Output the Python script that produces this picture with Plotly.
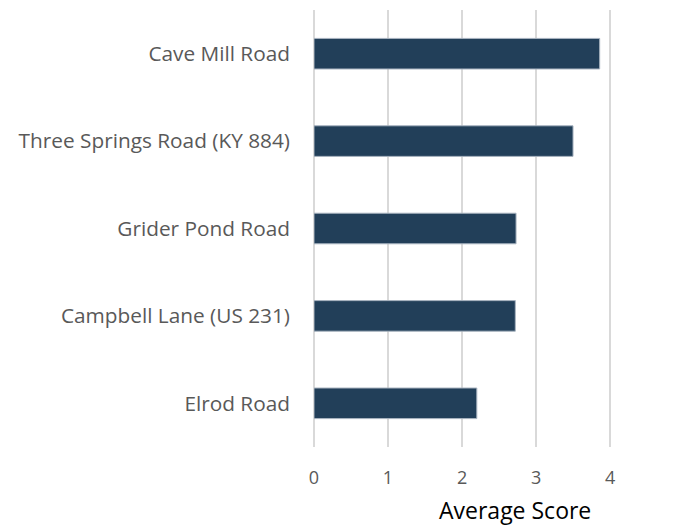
import plotly.graph_objects as go

categories = ["Cave Mill Road", "Three Springs Road (KY 884)", "Grider Pond Road",
              "Campbell Lane (US 231)", "Elrod Road"]
scores = [3.86, 3.50, 2.73, 2.72, 2.20]
tick_vals = [0, 1, 2, 3, 4]
tick_text = ["0", "1", "2", "3", "4"]

fig = go.Figure(go.Bar(
    x=scores, y=categories, orientation="h",
    width=0.35,
    marker=dict(color="#223F59", line=dict(color="#A9B4C0", width=1)),
))

# page body has an 8px default margin; figure size compensates for it
fig.update_layout(
    width=671, height=523,
    margin=dict(l=306, r=66, t=2, b=84),
    paper_bgcolor="white", plot_bgcolor="white",
    font=dict(family="Open Sans", color="#595959"),
    showlegend=False,
    bargap=0.65,
)
fig.update_yaxes(
    categoryorder="array", categoryarray=categories[::-1],
    tickfont=dict(size=20.8, color="#595959"),
    ticks="", ticklabelstandoff=23, showgrid=False, showline=False,
    automargin=False,
)
fig.update_xaxes(
    range=[0, 4.04], tickvals=tick_vals, ticktext=tick_text,
    tickfont=dict(size=18, color="#595959"),
    showgrid=True, gridcolor="#D9D9D9", gridwidth=2,
    zeroline=True, zerolinecolor="#D9D9D9", zerolinewidth=2,
    showline=False, ticks="", ticklabelstandoff=18,
    automargin=False,
)
fig.add_annotation(
    text="Average Score", xref="paper", yref="paper",
    x=(507 - 306) / (605 - 306), y=-0.144, xanchor="center", yanchor="middle",
    showarrow=False, font=dict(family="Open Sans", size=23, color="#000000"),
)
fig.write_html("out.html")
